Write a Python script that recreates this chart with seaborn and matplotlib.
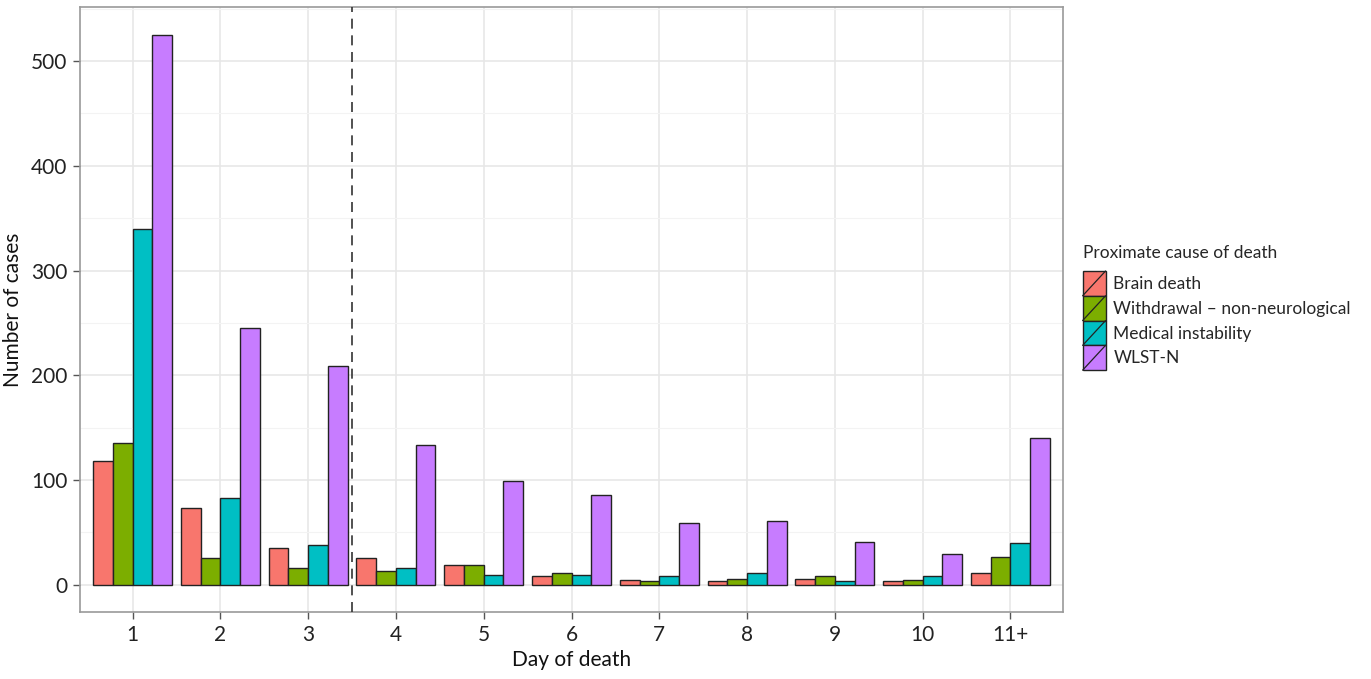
import numpy as np
import pandas as pd
import matplotlib
matplotlib.use("Agg")
import matplotlib.pyplot as plt
import seaborn as sns
from matplotlib.legend_handler import HandlerPatch
from matplotlib.patches import Rectangle, Patch
from matplotlib.lines import Line2D

days = ["1", "2", "3", "4", "5", "6", "7", "8", "9", "10", "11+"]
causes = ["Brain death", "Withdrawal \u2013 non-neurological", "Medical instability", "WLST-N"]
brain_death = [118, 73, 35, 26, 19, 8, 5, 4, 6, 4, 11]
withdrawal_nn = [135, 26, 16, 13, 19, 11, 4, 6, 8, 5, 27]
medical_instability = [340, 83, 38, 16, 9, 9, 8, 11, 4, 8, 40]
wlst_n = [525, 245, 209, 133, 99, 86, 59, 61, 41, 29, 140]
colors = ["#F8766D", "#7CAE00", "#00BFC4", "#C77CFF"]

series = [brain_death, withdrawal_nn, medical_instability, wlst_n]
df = pd.DataFrame({
    "day": np.repeat([days], len(causes), axis=0).ravel(),
    "cause": np.repeat(causes, len(days)),
    "n": np.concatenate(series),
})

sns.set_theme(style="white")
plt.rcParams["font.family"] = ["Lato", "DejaVu Sans"]

fig = plt.figure(figsize=(13.71, 6.79), dpi=100)
ax = fig.add_axes([0.0584, 0.0982, 0.7169, 0.8910])

sns.barplot(data=df, x="day", y="n", hue="cause", order=days, hue_order=causes,
            palette=colors, width=0.9, gap=0, edgecolor="#222222", linewidth=1.0,
            saturation=1, errorbar=None, ax=ax, legend=False, zorder=3)

ax.set_xlim(-0.6, len(days) - 0.4)
ax.set_ylim(-26.25, 551.25)
ax.set_yticks([0, 100, 200, 300, 400, 500])
ax.set_yticks([50, 150, 250, 350, 450, 550], minor=True)
ax.grid(True, which="major", color="#E6E6E6", linewidth=1.1, zorder=0)
ax.grid(True, which="minor", axis="y", color="#F3F3F3", linewidth=0.8, zorder=0)
ax.set_axisbelow(True)
ax.axvline(3.5 - 1, color="#333333", linestyle=(0, (6, 4)), linewidth=1.2, zorder=4)

for s in ax.spines.values():
    s.set_color("#9A9A9A")
    s.set_linewidth(1.2)
ax.tick_params(axis="both", which="major", length=5, width=1, color="#555555",
               labelsize=15, labelcolor="#222222", pad=4, direction="out",
               bottom=True, left=True)
ax.tick_params(axis="y", which="minor", length=0)
ax.set_xlabel("Day of death", fontsize=15, color="#111111", labelpad=4)
ax.set_ylabel("Number of cases", fontsize=15, color="#111111", labelpad=6)


class SlashHandler(HandlerPatch):
    def create_artists(self, legend, orig_handle, xdescent, ydescent, width, height, fontsize, trans):
        r = Rectangle((-xdescent, -ydescent), width, height,
                      facecolor=orig_handle.get_facecolor(), edgecolor="#222222",
                      linewidth=1.0, transform=trans)
        l = Line2D([-xdescent, -xdescent + width], [-ydescent, -ydescent + height],
                   color="#222222", linewidth=0.9, transform=trans)
        return [r, l]


handles = [Patch(facecolor=c, label=lab) for c, lab in zip(colors, causes)]
leg = fig.legend(handles=handles, labels=causes, title="Proximate cause of death",
                 loc="upper left", bbox_to_anchor=(0.7846, 0.649), frameon=False,
                 fontsize=12.5, title_fontsize=12.5, handlelength=1.32, handleheight=1.82,
                 labelspacing=0.0, handletextpad=0.45, borderaxespad=0,
                 handler_map={Patch: SlashHandler()})
leg._legend_box.align = "left"
leg._legend_box.sep = 7

fig.savefig("out.png", dpi=100)
